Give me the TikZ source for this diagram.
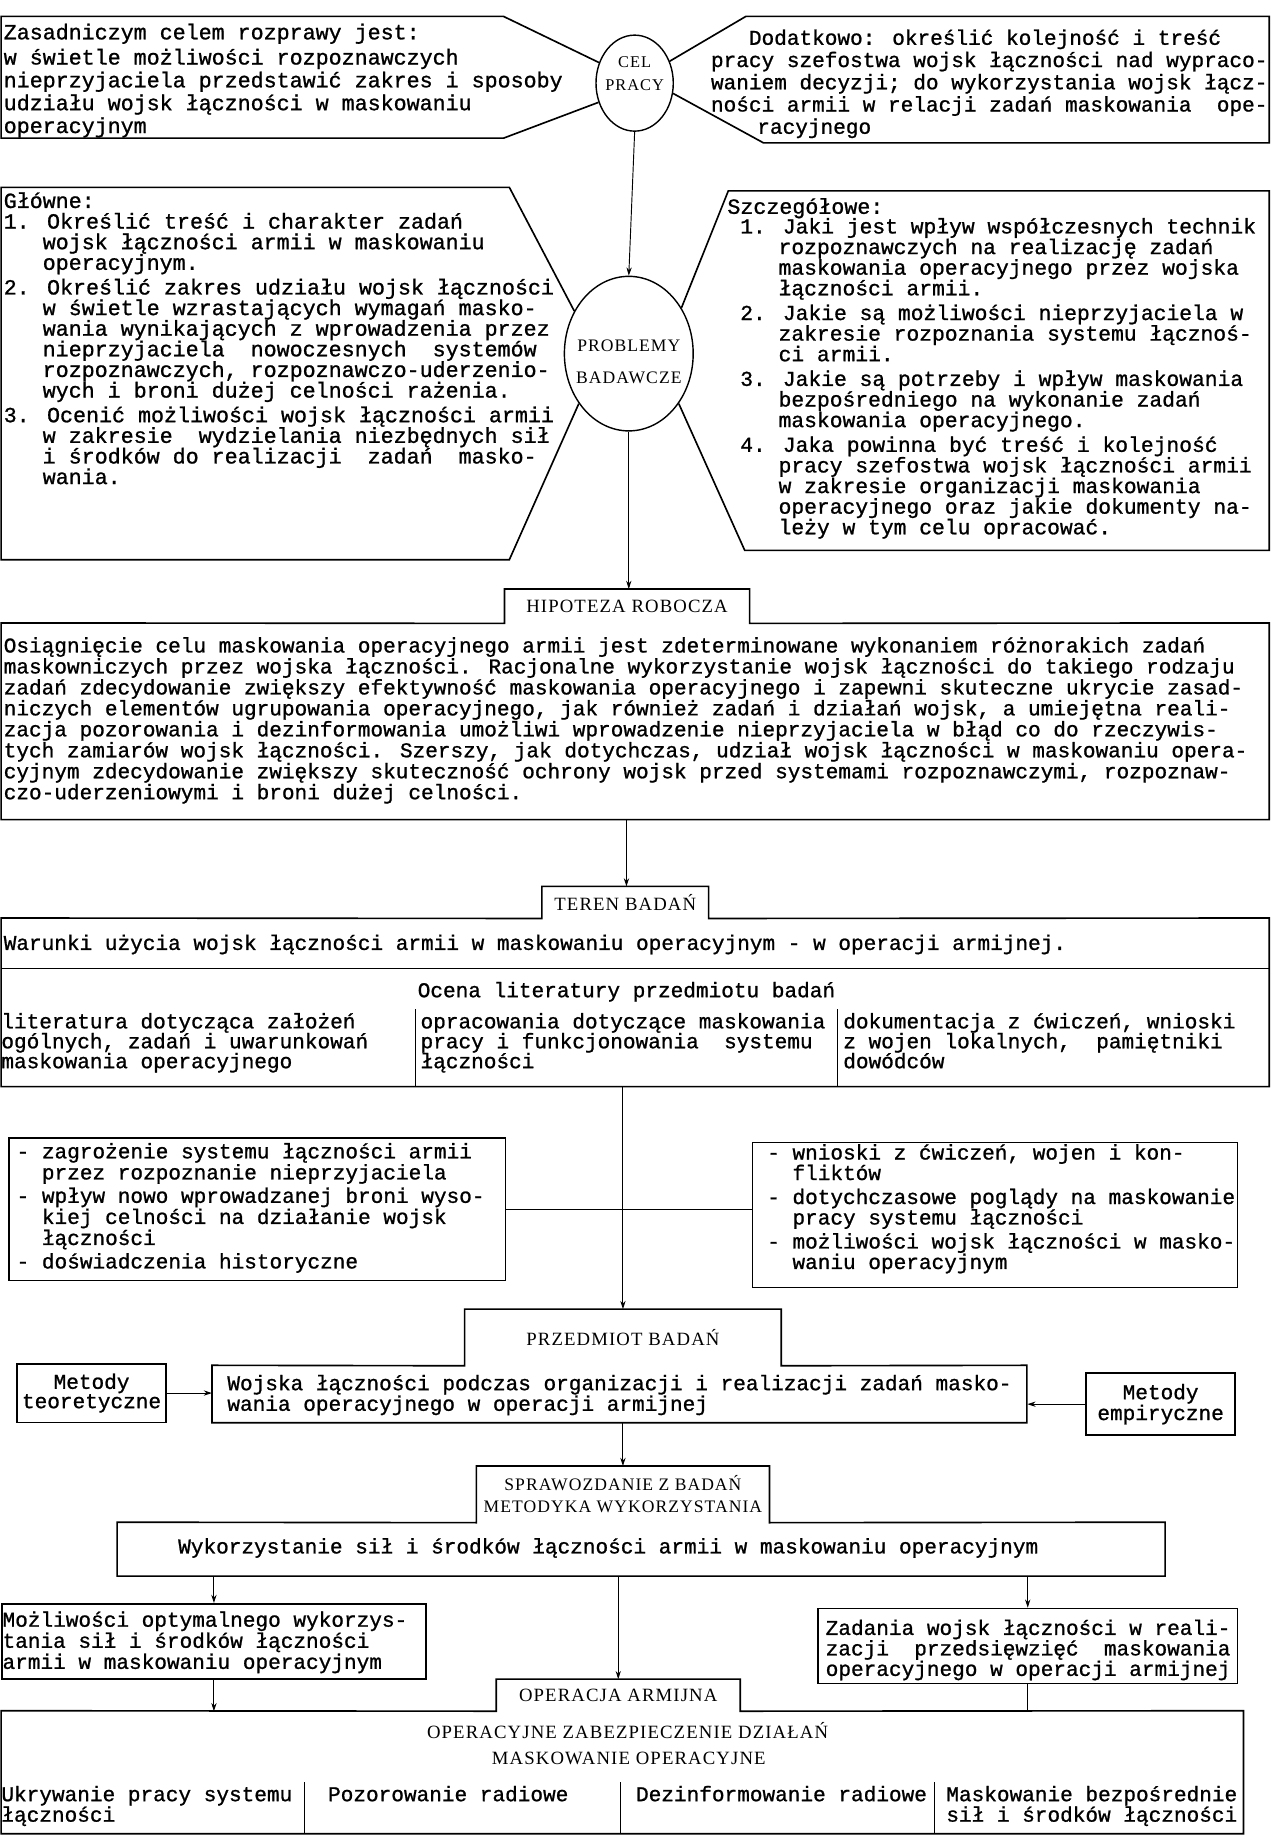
\documentclass[tikz,border=0pt]{standalone}
\usepackage{fontspec}
\setmainfont{Liberation Serif}
\newfontfamily\twfont{Liberation Mono}[FakeBold=1.0]
\newfontfamily\capfont{Liberation Serif}[LetterSpace=6]
\usetikzlibrary{shapes.geometric,arrows.meta,positioning}
\newcommand\tab{\hspace*{1.8em}}
\newcommand\dsp{\ \ }
\begin{document}
\begin{tikzpicture}[x=1pt,y=-1pt,
    frameline/.style={line width=1.4pt},
    link/.style={line width=0.8pt},
    arrow/.style={line width=0.8pt, -{Stealth[length=7pt,width=4.5pt]}},
    tw/.style={font=\twfont\fontsize{18}{17.6}\selectfont, align=left, inner sep=0pt, anchor=north west},
    twbig/.style={font=\twfont\fontsize{18.5}{17.6}\selectfont, align=left, inner sep=0pt, anchor=north west},
    ring/.style={ellipse, draw, line width=1.2pt, inner sep=0pt},
    tabhead/.style={inner sep=0pt, align=center, font=\capfont\fontsize{16}{19}\selectfont},
    caplabel/.style={inner sep=0pt, align=center, font=\capfont\fontsize{16}{19}\selectfont},
    box/.style={draw, line width=1.4pt, inner sep=0pt, anchor=north west}
  ]
  \useasboundingbox (0,0) rectangle (1086,1568);

  % cel pracy
  \node[ring, minimum width=66pt, minimum height=82pt] (cel) at (542,71) {};
  \node[caplabel, font=\capfont\fontsize{14}{20}\selectfont] (celtxt) at (542,63) {CEL\\PRACY};
  \draw[frameline] (cel.150) -- (430,14) -- (1,14) -- (1,118) -- (430,118) -- (cel.208);
  \draw[frameline] (cel.32) -- (637,14) -- (1084,14) -- (1084,122) -- (652,122) -- (cel.-15);
  \node[twbig, font=\twfont\fontsize{18.5}{19.5}\selectfont] (zasad) at (3,20) {Zasadniczym celem rozprawy jest:\\[2pt]
w świetle możliwości rozpoznawczych\\
nieprzyjaciela przedstawić zakres i sposoby\\
udziału wojsk łączności w maskowaniu\\
operacyjnym};
  \node[tw, font=\twfont\fontsize{18}{19}\selectfont] (dodat) at (607,25) {\tab Dodatkowo: określić kolejność i treść\\
pracy szefostwa wojsk łączności nad wypraco-\\
waniem decyzji; do wykorzystania wojsk łącz-\\
ności armii w relacji zadań maskowania\dsp ope-\\
\hspace*{2.2em}racyjnego};

  % problemy badawcze
  \node[ring, minimum width=110pt, minimum height=132pt] (prob) at (537,302) {};
  \node[caplabel, font=\capfont\fontsize{15}{27}\selectfont] (probtxt) at (537,309) {PROBLEMY\\BADAWCZE};
  \draw[arrow] (cel.south) -- (prob.north);
  \draw[frameline] (prob.142) -- (435,160) -- (1,160) -- (1,478) -- (435,478) -- (prob.225);
  \draw[frameline] (prob.41) -- (622,163) -- (1084,163) -- (1084,470) -- (636,470) -- (prob.-45);
  \node[twbig] (glowne) at (3,164) {Główne:\\
1. Określić treść i charakter zadań\\
\tab wojsk łączności armii w maskowaniu\\
\tab operacyjnym.\\[3.5pt]
2. Określić zakres udziału wojsk łączności\\
\tab w świetle wzrastających wymagań masko-\\
\tab wania wynikających z wprowadzenia przez\\
\tab nieprzyjaciela\dsp nowoczesnych\dsp systemów\\
\tab rozpoznawczych, rozpoznawczo-uderzenio-\\
\tab wych i broni dużej celności rażenia.\\[3.5pt]
3. Ocenić możliwości wojsk łączności armii\\
\tab w zakresie\dsp wydzielania niezbędnych sił\\
\tab i środków do realizacji\dsp zadań\dsp masko-\\
\tab wania.};
  \node[twbig] (szczeg) at (621,169) {Szczegółowe:};
  \node[twbig, font=\twfont\fontsize{18.2}{17.6}\selectfont] (szczegtxt) at (632,186) {1. Jaki jest wpływ współczesnych technik\\
\tab rozpoznawczych na realizację zadań\\
\tab maskowania operacyjnego przez wojska\\
\tab łączności armii.\\[3.5pt]
2. Jakie są możliwości nieprzyjaciela w\\
\tab zakresie rozpoznania systemu łącznoś-\\
\tab ci armii.\\[3.5pt]
3. Jakie są potrzeby i wpływ maskowania\\
\tab bezpośredniego na wykonanie zadań\\
\tab maskowania operacyjnego.\\[3.5pt]
4. Jaka powinna być treść i kolejność\\
\tab pracy szefostwa wojsk łączności armii\\
\tab w zakresie organizacji maskowania\\
\tab operacyjnego oraz jakie dokumenty na-\\
\tab leży w tym celu opracować.};

  % hipoteza robocza
  \node[tabhead, minimum width=209pt, minimum height=29pt, anchor=north] (hipo) at (535.5,503) {HIPOTEZA ROBOCZA};
  \draw[arrow] (prob.south) -- (prob.south |- hipo.north);
  \draw[frameline] (1,532) -- (hipo.south west) -- (hipo.north west) -- (hipo.north east) -- (hipo.south east) -- (1084,532) -- (1084,700) -- (1,700) -- cycle;
  \node[tw, font=\twfont\fontsize{18}{17.9}\selectfont] (hipotxt) at (3,544) {Osiągnięcie celu maskowania operacyjnego armii jest zdeterminowane wykonaniem różnorakich zadań\\
maskowniczych przez wojska łączności. Racjonalne wykorzystanie wojsk łączności do takiego rodzaju\\
zadań zdecydowanie zwiększy efektywność maskowania operacyjnego i zapewni skuteczne ukrycie zasad-\\
niczych elementów ugrupowania operacyjnego, jak również zadań i działań wojsk, a umiejętna reali-\\
zacja pozorowania i dezinformowania umożliwi wprowadzenie nieprzyjaciela w błąd co do rzeczywis-\\
tych zamiarów wojsk łączności. Szerszy, jak dotychczas, udział wojsk łączności w maskowaniu opera-\\
cyjnym zdecydowanie zwiększy skuteczność ochrony wojsk przed systemami rozpoznawczymi, rozpoznaw-\\
czo-uderzeniowymi i broni dużej celności.};

  % teren badan
  \node[tabhead, minimum width=142pt, minimum height=27pt, anchor=north] (teren) at (534,757) {TEREN BADAŃ};
  \draw[arrow] (535,700) -- (teren.north -| 535,700);
  \draw[frameline] (1,784) -- (teren.south west) -- (teren.north west) -- (teren.north east) -- (teren.south east) -- (1084,784) -- (1084,928) -- (1,928) -- cycle;
  \draw[frameline] (1,827) -- (1084,827);
  \draw[link] (355,862) -- (355,928);
  \draw[link] (715,862) -- (715,928);
  \node[tw] (warunki) at (3,798) {Warunki użycia wojsk łączności armii w maskowaniu operacyjnym - w operacji armijnej.};
  \node[tw, anchor=center] (ocena) at (535,847) {Ocena literatury przedmiotu badań};
  \node[tw, font=\twfont\fontsize{18}{17}\selectfont] (lit) at (1,865) {literatura dotycząca założeń\\ogólnych, zadań i uwarunkowań\\maskowania operacyjnego};
  \node[tw, font=\twfont\fontsize{18}{17}\selectfont] (oprac) at (359,865) {opracowania dotyczące maskowania\\pracy i funkcjonowania\dsp systemu\\łączności};
  \node[tw, font=\twfont\fontsize{18}{17}\selectfont] (dokum) at (720,865) {dokumentacja z ćwiczeń, wnioski\\z wojen lokalnych,\dsp pamiętniki\\dowódców};

  % uwarunkowania
  \node[box, minimum width=424pt, minimum height=122pt] (zagr) at (7,971) {};
  \node[tw, font=\twfont\fontsize{18}{18}\selectfont] (zagrtxt) at (14,976) {- zagrożenie systemu łączności armii\\
\hspace*{1.2em}przez rozpoznanie nieprzyjaciela\\[2pt]
- wpływ nowo wprowadzanej broni wyso-\\
\hspace*{1.2em}kiej celności na działanie wojsk\\
\hspace*{1.2em}łączności\\[2pt]
- doświadczenia historyczne};
  \node[box, minimum width=414pt, minimum height=124pt] (wnio) at (642,975) {};
  \node[tw, font=\twfont\fontsize{18}{17.5}\selectfont] (wniotxt) at (655,977) {- wnioski z ćwiczeń, wojen i kon-\\
\hspace*{1.2em}fliktów\\[3pt]
- dotychczasowe poglądy na maskowanie\\
\hspace*{1.2em}pracy systemu łączności\\[3pt]
- możliwości wojsk łączności w masko-\\
\hspace*{1.2em}waniu operacyjnym};
  \draw[link] (zagr.east) -- (zagr.east -| wnio.west);

  % przedmiot badan
  \node[tabhead, minimum width=270pt, minimum height=48pt, anchor=north] (przed) at (532,1118) {PRZEDMIOT BADAŃ};
  \draw[arrow] (przed.north |- 0,928) -- (przed.north);
  \draw[frameline] (181,1166) -- (przed.south west) -- (przed.north west) -- (przed.north east) -- (przed.south east) -- (877,1166) -- (877,1215) -- (181,1215) -- cycle;
  \node[inner sep=0pt, minimum width=696pt, minimum height=49pt, anchor=north west] (wojska) at (181,1166) {};
  \node[tw] (wojskatxt) at (194,1174) {Wojska łączności podczas organizacji i realizacji zadań masko-\\wania operacyjnego w operacji armijnej};
  \node[box, align=center, minimum width=127pt, minimum height=50pt, font=\twfont\fontsize{18}{16.5}\selectfont] (teor) at (14,1164) {Metody\\teoretyczne};
  \node[box, align=center, minimum width=127pt, minimum height=53pt, font=\twfont\fontsize{18}{16.5}\selectfont] (emp) at (927,1172) {Metody\\empiryczne};
  \draw[arrow] (teor.east) -- (teor.east -| wojska.west);
  \draw[arrow] (emp.west) -- (emp.west -| wojska.east);

  % sprawozdanie
  \node[tabhead, minimum width=250pt, minimum height=48pt, anchor=north, font=\capfont\fontsize{15}{19}\selectfont] (spraw) at (532,1252) {SPRAWOZDANIE Z BADAŃ\\METODYKA WYKORZYSTANIA};
  \draw[arrow] (wojska.south -| spraw.north) -- (spraw.north);
  \draw[frameline] (100,1300) -- (spraw.south west) -- (spraw.north west) -- (spraw.north east) -- (spraw.south east) -- (995,1300) -- (995,1346) -- (100,1346) -- cycle;
  \node[inner sep=0pt, minimum width=895pt, minimum height=46pt, anchor=north west] (wyk) at (100,1300) {};
  \node[tw, anchor=west] (wyktxt) at (152,1322) {Wykorzystanie sił i środków łączności armii w maskowaniu operacyjnym};

  \node[box, minimum width=362pt, minimum height=64pt] (mozl) at (1,1369) {};
  \node[tw, font=\twfont\fontsize{18}{18}\selectfont] (mozltxt) at (2,1376) {Możliwości optymalnego wykorzys-\\tania sił i środków łączności\\armii w maskowaniu operacyjnym};
  \node[box, minimum width=358pt, minimum height=64pt] (zad) at (698,1373) {};
  \node[tw, font=\twfont\fontsize{18}{17.5}\selectfont] (zadtxt) at (705,1383) {Zadania wojsk łączności w reali-\\zacji\dsp przedsięwzięć\dsp maskowania\\operacyjnego w operacji armijnej};

  % operacja armijna
  \node[tabhead, minimum width=208pt, minimum height=27pt, anchor=north] (oper) at (528,1434) {OPERACJA ARMIJNA};
  \draw[arrow] (wyk.south -| mozl.north) -- (mozl.north);
  \draw[arrow] (wyk.south -| zad.north) -- (zad.north);
  \draw[arrow] (wyk.south -| oper.north) -- (oper.north);
  \draw[arrow] (mozl.south) -- (mozl.south |- oper.south);
  \draw[link] (zad.south) -- (zad.south |- oper.south);
  \draw[frameline] (1,1461) -- (oper.south west) -- (oper.north west) -- (oper.north east) -- (oper.south east) -- (1062,1461) -- (1062,1566) -- (1,1566) -- cycle;
  \node[caplabel] (zabezp) at (536,1478) {OPERACYJNE ZABEZPIECZENIE DZIAŁAŃ};
  \node[caplabel] (maskop) at (537,1502) {MASKOWANIE OPERACYJNE};
  \foreach \cx in {260,530,798} \draw[link] (\cx,1522) -- (\cx,1566);
  \node[tw, font=\twfont\fontsize{18}{17.5}\selectfont] (ukryw) at (1,1525) {Ukrywanie pracy systemu\\łączności};
  \node[tw] (pozor) at (280,1525) {Pozorowanie radiowe};
  \node[tw] (dezinf) at (543,1525) {Dezinformowanie radiowe};
  \node[tw, font=\twfont\fontsize{18}{17.5}\selectfont] (maskbez) at (808,1525) {Maskowanie bezpośrednie\\sił i środków łączności};
\end{tikzpicture}
\end{document}
